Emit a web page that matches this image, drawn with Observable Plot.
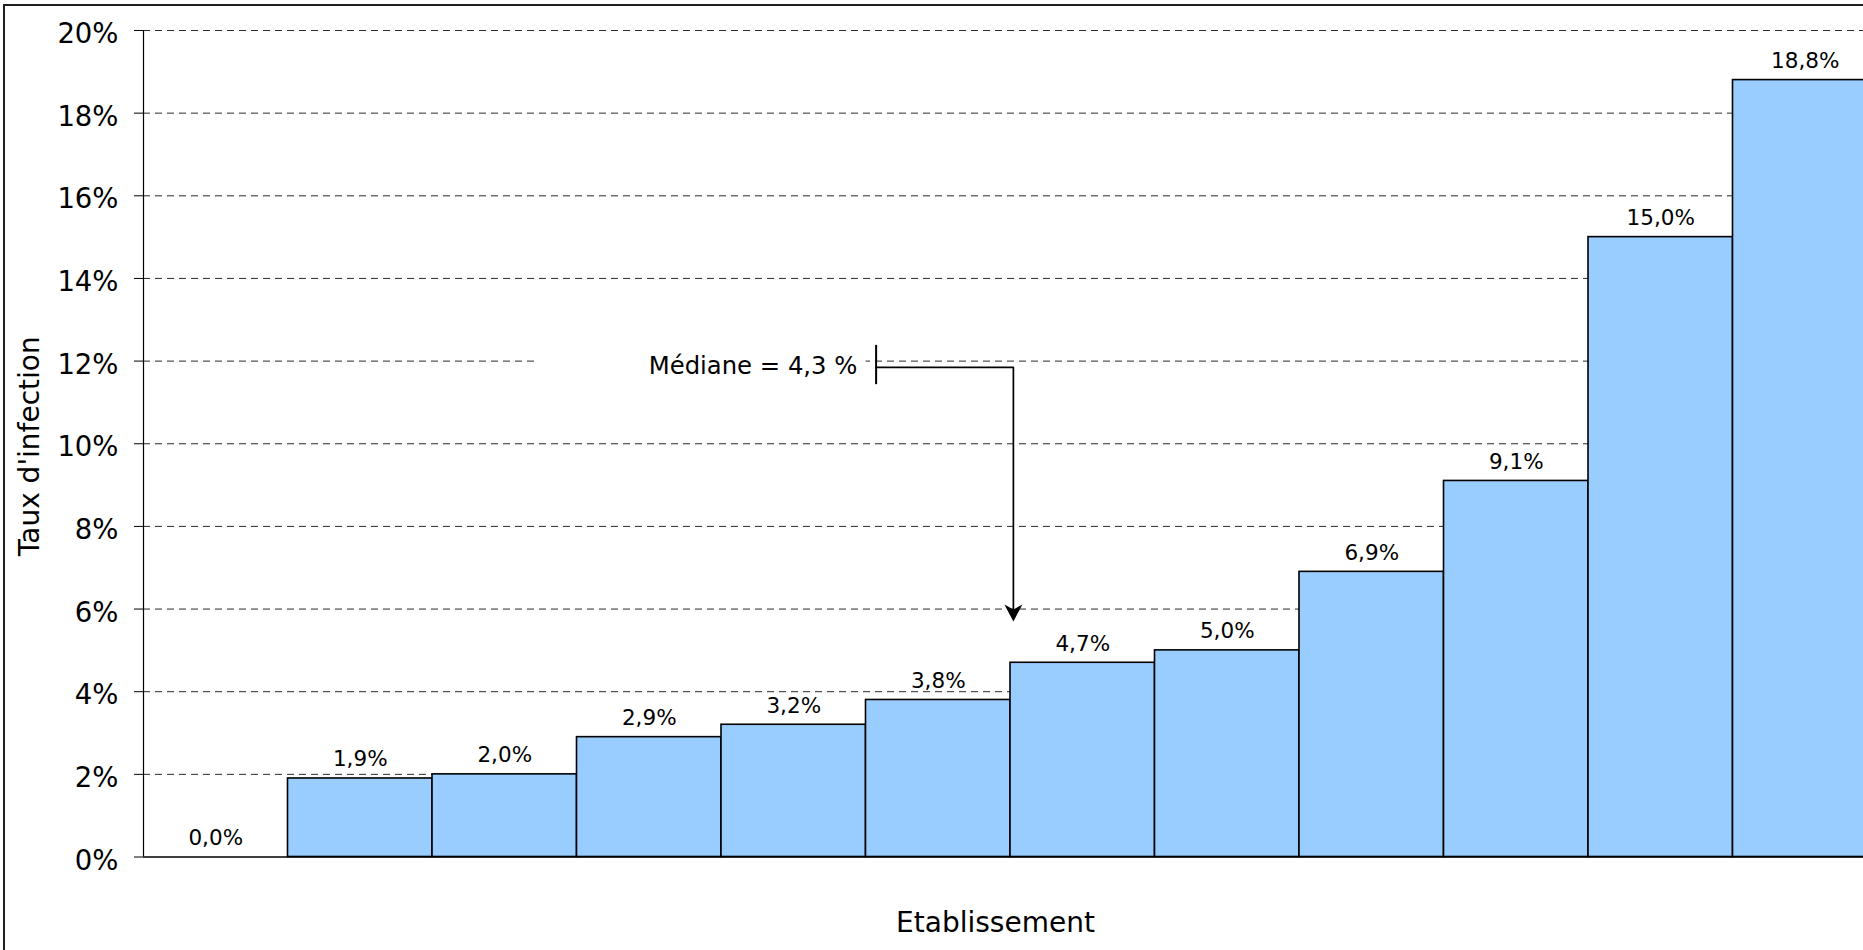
<!DOCTYPE html>
<html>
<head>
<meta charset="utf-8">
<script src="https://cdn.jsdelivr.net/npm/d3@7"></script>
<script src="https://cdn.jsdelivr.net/npm/@observablehq/plot@0.6"></script>
<style>
  html, body { margin: 0; padding: 0; background: #fff; overflow: hidden; width: 1863px; height: 950px; }
  #chart { position: absolute; left: 0; top: 0; }
  #frame { position: absolute; left: 3px; top: 4px; width: 3000px; height: 3000px;
           border-left: 2px solid #1e1e1e; border-top: 2px solid #1e1e1e; pointer-events: none; }
</style>
</head>
<body>
<div id="chart"></div>
<div id="frame"></div>
<script>
// ---- data ----
const rates = [0.0, 1.9, 2.0, 2.9, 3.2, 3.8, 4.7, 5.0, 6.9, 9.1, 15.0, 18.8];
const yTicks = [0, 2, 4, 6, 8, 10, 12, 14, 16, 18, 20];
const xTitle = "Etablissement";
const yTitle = "Taux d'infection";

// median annotation (data units: x = establishment index, y = %)
const medianText = ["Médiane = 4,3 %"];
const medianTextX = [4.94];
const medianTextY = [11.69];
const medianTickX = [5.07];
const medianTickY1 = [12.38];
const medianTickY2 = [11.43];
const arrowPathX = [5.07, 6.02, 6.02];
const arrowPathY = [11.85, 11.85, 5.95];
const arrowTipX = [6.02];
const arrowTipY = [5.70];
const labelBoxX1 = [2.71];
const labelBoxX2 = [5.0];
const labelBoxY1 = [11.5];
const labelBoxY2 = [12.5];

// ---- build tables ----
const fmt = v => d3.format(".1f")(v).replace(".", ",") + "%";
const bars = rates.map((v, i) => ({i0: i, i1: i + 1, xm: i + 0.5, v, label: fmt(v)}));
const arrowPath = arrowPathX.map((x, k) => ({x, y: arrowPathY[k]}));
const gridTicks = yTicks.filter(d => d > 0);

const arrowHead = {
  draw(ctx) {
    ctx.moveTo(0, 0);
    ctx.lineTo(-9, -17);
    ctx.lineTo(0, -12);
    ctx.lineTo(9, -17);
    ctx.closePath();
  }
};

const chart = Plot.plot({
  width: 1863,
  height: 950,
  marginLeft: 143,
  marginRight: 0,
  marginTop: 30,
  marginBottom: 93.5,
  style: {fontFamily: "'DejaVu Sans', Verdana, sans-serif", color: "black", background: "white"},
  x: {domain: [0, 12], range: [143, 1877], axis: null},
  y: {domain: [0, 20], axis: null},
  marks: [
    // dashed gridlines
    Plot.ruleY(gridTicks, {stroke: "#2a2a2a", strokeDasharray: "7,5", strokeWidth: 1}),
    // white box behind the median label
    Plot.rect(labelBoxX1, {x1: d => d, x2: (d, k) => labelBoxX2[k], y1: (d, k) => labelBoxY1[k], y2: (d, k) => labelBoxY2[k], fill: "white"}),
    // bars
    Plot.rectY(bars, {x1: "i0", x2: "i1", y: "v", fill: "#99CCFF", stroke: "black", strokeWidth: 1.6}),
    // value labels
    Plot.text(bars, {x: "xm", y: "v", text: "label", dy: -12, lineAnchor: "bottom", fontSize: 21.5, fill: "black"}),
    // axes lines
    Plot.ruleX([0], {y1: 0, y2: 20, stroke: "black", strokeWidth: 1.2}),
    Plot.ruleY([0], {stroke: "black", strokeWidth: 1.6}),
    // y ticks (marks only)
    Plot.axisY(yTicks, {tickSize: 9, fill: "none", stroke: "black", label: null}),
    // y tick labels
    Plot.axisY(yTicks, {tickSize: 9, tickPadding: 16, stroke: "none", dy: 3.8, fontSize: 27.5, tickFormat: d => d + "%", label: null, fill: "black"}),
    // median annotation
    Plot.text(medianText, {x: medianTextX, y: medianTextY, text: d => d, textAnchor: "end", lineAnchor: "bottom", fontSize: 24.3, fill: "black"}),
    Plot.ruleX(medianTickX, {y1: medianTickY1, y2: medianTickY2, stroke: "black", strokeWidth: 2}),
    Plot.line(arrowPath, {x: "x", y: "y", stroke: "black", strokeWidth: 1.7, curve: "linear"}),
    Plot.dot(arrowTipX, {x: d => d, y: (d, k) => arrowTipY[k], symbol: arrowHead, fill: "black", stroke: "none"}),
    // axis titles
    Plot.text([xTitle], {frameAnchor: "bottom", text: d => d, textAnchor: "middle", lineAnchor: "bottom", dx: -8, dy: 74.5, fontSize: 28, fill: "black"}),
    Plot.text([yTitle], {frameAnchor: "left", text: d => d, rotate: -90, textAnchor: "middle", lineAnchor: "bottom", dx: -105, dy: 2.5, fontSize: 28, fill: "black"})
  ]
});
document.getElementById("chart").appendChild(chart);
</script>
</body>
</html>
